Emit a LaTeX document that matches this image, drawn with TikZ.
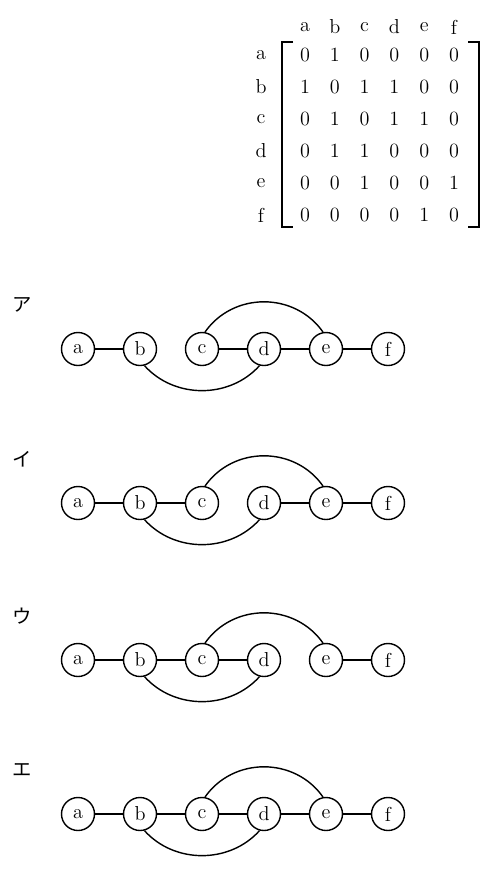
\documentclass[tikz,border=0pt]{standalone}
\usepackage{fontspec}
\newfontfamily\jp{Noto Sans CJK JP}
\usepackage{tikz}

\begin{document}
\begin{tikzpicture}[
    line width=0.8pt,
    every node/.style={font=\fontsize{11.5pt}{13pt}\selectfont},
    vertex/.style={draw,circle,inner sep=0pt,minimum size=0.66cm},
    tag/.style={font=\jp\fontsize{11pt}{13pt}\selectfont}
  ]
  \useasboundingbox (0,0) rectangle (9.96,-17.48);
  % Adjacency matrix: headers, row names, entries
  \foreach \nm [count=\j] in {a,...,f} {
    \node (h\j) at ({6.10+0.596*(\j-1)},-0.54) {\nm};
    \node (r\j) at (5.22,{-1.10-0.64*(\j-1)}) {\nm};
  }
  \foreach \row [count=\i] in {{0,1,0,0,0,0},{1,0,1,1,0,0},{0,1,0,1,1,0},
                               {0,1,1,0,0,0},{0,0,1,0,0,1},{0,0,0,0,1,0}} {
    \foreach \v [count=\j] in \row {
      \node (m\i\j) at ({6.10+0.596*(\j-1)},{-1.10-0.64*(\i-1)}) {\v};
    }
  }
  % Brackets
  \draw (5.86,-0.84) -- (5.64,-0.84) -- (5.64,-4.54) -- (5.86,-4.54);
  \draw (9.36,-0.84) -- (9.58,-0.84) -- (9.58,-4.54) -- (9.36,-4.54);
  % The four graphs
  \foreach \lab/\yy/\edges [count=\g] in {ア/-6.98/{a/b,c/d,d/e,e/f},
                                         イ/-10.06/{a/b,b/c,d/e,e/f},
                                         ウ/-13.20/{a/b,b/c,c/d,e/f},
                                         エ/-16.28/{a/b,b/c,c/d,d/e,e/f}} {
    \node[tag] (t\g) at (0.44,\yy+0.88) {\lab};
    \foreach \nm [count=\k] in {a,...,f}
      \node[vertex] (\nm\g) at ({0.32+1.24*\k},\yy) {\nm};
    \foreach \u/\w in \edges
      \draw (\u\g) -- (\w\g);
    \draw (c\g.80) to[out=55,in=125,looseness=1.07] (e\g.100);
    \draw (b\g.-75) to[out=-48,in=-132] (d\g.-105);
  }
\end{tikzpicture}
\end{document}
